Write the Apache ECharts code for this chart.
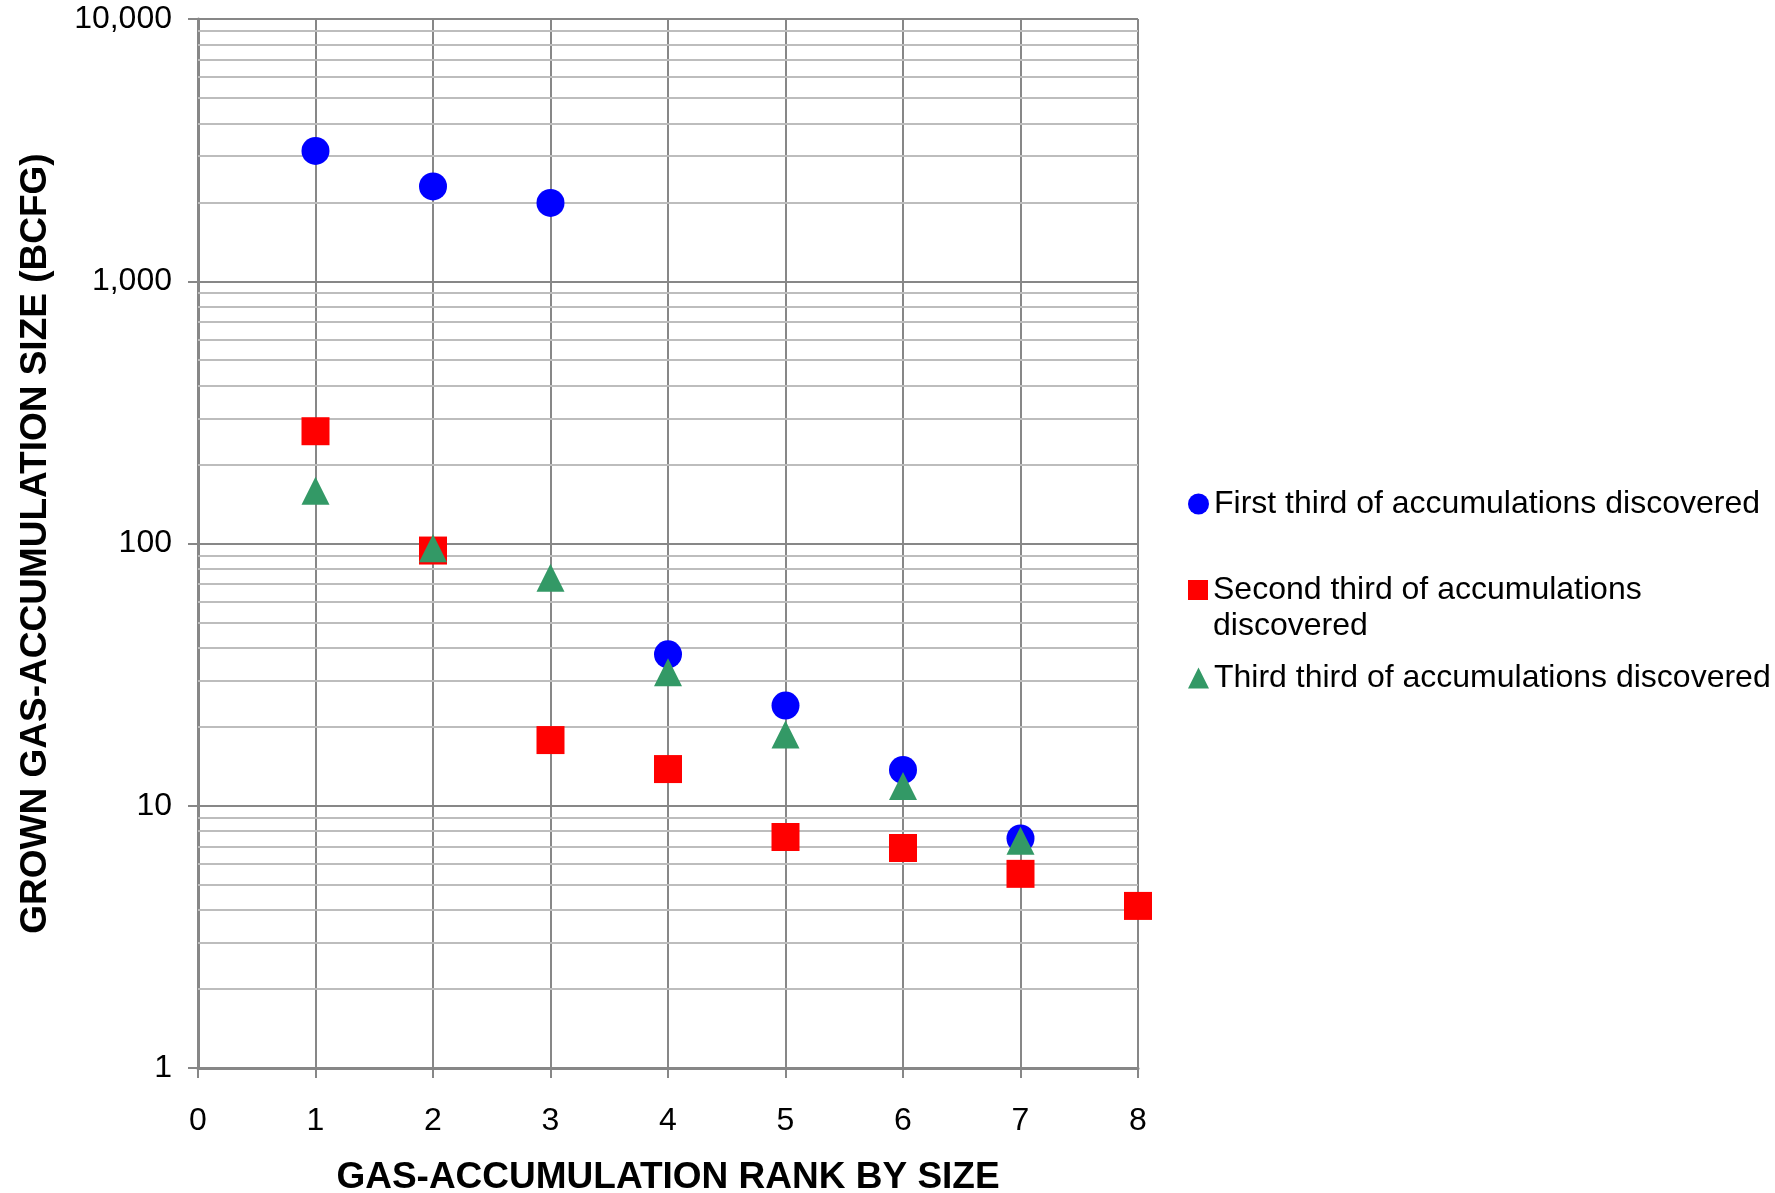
<!DOCTYPE html>
<html>
<head>
<meta charset="utf-8">
<title>Gas accumulation size by rank</title>
<script src="https://cdn.jsdelivr.net/npm/echarts@6/dist/echarts.min.js"></script>
<style>
    html, body { margin: 0; padding: 0; background: #fff; }
    #chart { width: 1775px; height: 1193px; }
</style>
</head>
<body>
<div id="chart"></div>
<script>
// data
var ranks = [1, 2, 3, 4, 5, 6, 7, 8];
var firstThird = [3140, 2300, 1990, 37.8, 24.1, 13.7, 7.5];
var secondThird = [268, 94, 17.8, 13.8, 7.6, 6.9, 5.5, 4.15];
var thirdThird = [159, 96, 74, 32.3, 18.7, 11.9, 7.35];
var seriesNames = [
    'First third of accumulations discovered',
    'Second third of accumulations discovered',
    'Third third of accumulations discovered'
];
// minor log gridlines (2..9 in each decade)
var minorGrid = [2, 3, 4, 5, 6, 7, 8, 9, 20, 30, 40, 50, 60, 70, 80, 90,
    200, 300, 400, 500, 600, 700, 800, 900, 2000, 3000, 4000, 5000, 6000, 7000, 8000, 9000];

(function() {
    var chart = echarts.init(document.getElementById('chart'));
    var font = 'Liberation Sans, Arial, sans-serif';

    // pair ranks with values
    function pairs(vals) {
        var out = [];
        for (var i = 0; i < vals.length; i++) {
            out.push([ranks[i], vals[i]]);
        }
        return out;
    }

    var minorLines = [];
    for (var i = 0; i < minorGrid.length; i++) {
        minorLines.push({ yAxis: minorGrid[i] });
    }

    // one legend per entry so the vertical spacing can follow the picture
    function legendAt(name, top, extra) {
        var lg = {
            data: [name],
            left: 1188,
            top: top,
            orient: 'vertical',
            padding: 0,
            itemWidth: 21,
            itemHeight: 21,
            selectedMode: false,
            formatter: function(n) {
                return n === seriesNames[1] ? 'Second third of accumulations\ndiscovered' : n;
            },
            textStyle: {
                fontFamily: font,
                fontSize: 32,
                lineHeight: 36,
                color: '#000'
            }
        };
        for (var k in extra) lg[k] = extra[k];
        return lg;
    }

    var option = {
        animation: false,
        backgroundColor: '#fff',
        grid: {
            left: 198,
            right: 637,
            top: 19,
            bottom: 125,
            // keep the plot box fixed, labels may sit near the edge
            outerBoundsMode: 'none'
        },
        legend: [
            legendAt(seriesNames[0], 486),
            // square sits next to the first text line, padded icon keeps it there
            legendAt(seriesNames[1], 572, {
                left: 1188,
                itemWidth: 20,
                itemHeight: 72,
                icon: 'path://M0,0L0.01,0M0,8L20,8L20,28L0,28ZM0,72L0.01,72'
            }),
            legendAt(seriesNames[2], 660)
        ],
        xAxis: {
            type: 'value',
            min: 0,
            max: 8,
            interval: 1,
            name: 'GAS-ACCUMULATION RANK BY SIZE',
            nameLocation: 'middle',
            nameGap: 91,
            nameTextStyle: {
                fontFamily: font,
                fontSize: 37,
                fontWeight: 'bold',
                color: '#000'
            },
            axisLine: { lineStyle: { color: '#878787', width: 3 } },
            axisTick: { show: true, length: 10, lineStyle: { color: '#878787', width: 2 } },
            axisLabel: {
                margin: 37,
                fontFamily: font,
                fontSize: 32,
                color: '#000'
            },
            splitLine: { show: true, lineStyle: { color: '#878787', width: 2 } }
        },
        yAxis: {
            type: 'log',
            logBase: 10,
            min: 1,
            max: 10000,
            name: 'GROWN GAS-ACCUMULATION SIZE (BCFG)',
            nameLocation: 'middle',
            nameGap: 144,
            nameTextStyle: {
                fontFamily: font,
                fontSize: 37,
                fontWeight: 'bold',
                color: '#000'
            },
            axisLine: { show: true, lineStyle: { color: '#878787', width: 3 } },
            axisTick: { show: true, length: 10, lineStyle: { color: '#878787', width: 2 } },
            axisLabel: {
                margin: 26,
                fontFamily: font,
                fontSize: 32,
                color: '#000',
                formatter: function(v) {
                    return Math.round(v).toLocaleString('en-US');
                }
            },
            splitLine: { show: true, lineStyle: { color: '#878787', width: 2 } }
        },
        series: [
            {
                name: seriesNames[0],
                type: 'scatter',
                symbol: 'circle',
                symbolSize: 28,
                itemStyle: { color: '#0000ff', opacity: 1 },
                data: pairs(firstThird),
                markLine: {
                    z: 1,
                    silent: true,
                    symbol: 'none',
                    label: { show: false },
                    lineStyle: { color: '#bdbdbd', width: 2, type: 'solid' },
                    emphasis: { disabled: true },
                    data: minorLines
                }
            },
            {
                name: seriesNames[1],
                type: 'scatter',
                symbol: 'rect',
                symbolSize: 28,
                itemStyle: { color: '#ff0000', opacity: 1 },
                data: pairs(secondThird)
            },
            {
                name: seriesNames[2],
                type: 'scatter',
                symbol: 'triangle',
                symbolSize: 28,
                itemStyle: { color: '#339966', opacity: 1 },
                data: pairs(thirdThird)
            }
        ]
    };
    chart.setOption(option);
})();
</script>
</body>
</html>
